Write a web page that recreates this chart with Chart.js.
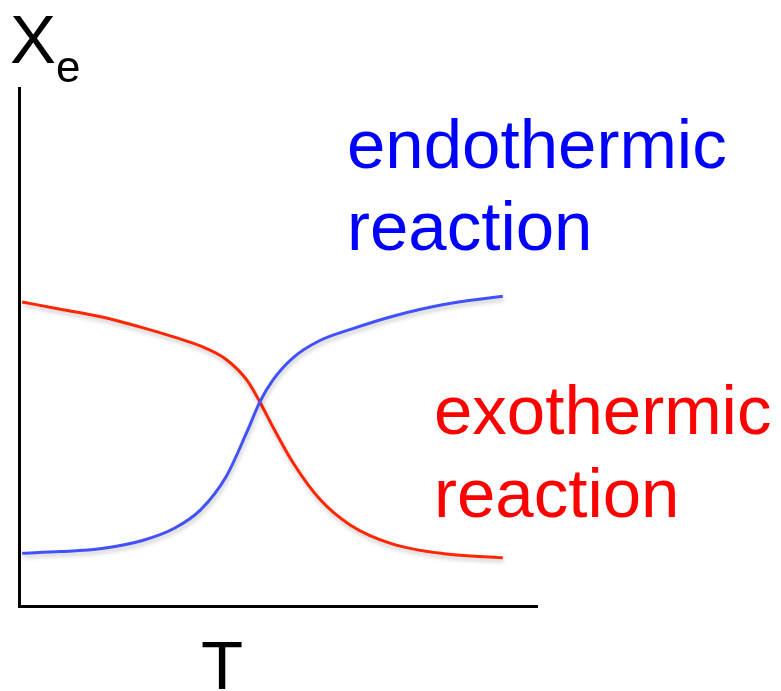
<!DOCTYPE html>
<html>
<head>
<meta charset="utf-8">
<script src="https://cdn.jsdelivr.net/npm/chart.js@4"></script>
<style>
  html, body { margin: 0; padding: 0; background: #fff; }
  #wrap { width: 781px; height: 691px; }
</style>
</head>
<body>
<div id="wrap"><canvas id="myChart" width="781" height="691"></canvas></div>
<script>
// temperature axis positions (arbitrary units, 0..100)
var temps = [0.6, 8, 16, 24, 30, 35, 40, 44, 46.5, 49, 53, 58, 64, 72, 82, 93.4];
// equilibrium conversion Xe (arbitrary units, 0..100)
var endoValues = [10.2, 10.5, 11.1, 12.7, 15.0, 18.5, 25.0, 33.6, 39.4, 43.6, 48.0, 51.2, 53.4, 55.9, 58.2, 59.8];
var exoValues = [58.7, 57.3, 55.8, 53.7, 51.9, 50.2, 47.6, 43.6, 39.4, 34.6, 27.5, 20.7, 15.6, 12.0, 10.1, 9.3];
var xTitle = 'T';
var yTitle = 'X';
var ySub = 'e';
var endoLabel = ['endothermic', 'reaction'];
var exoLabel = ['exothermic', 'reaction'];

function toPoints(xs, ys) {
    return xs.map(function (x, i) { return { x: x, y: ys[i] }; });
}

var font = '"Liberation Sans", Arial, Helvetica, sans-serif';

var shadowPlugin = {
    id: 'shadows',
    beforeDatasetsDraw: function (chart) {
        var c = chart.ctx;
        c.save();
        c.shadowColor = 'rgba(0,0,0,0.22)';
        c.shadowBlur = 4;
        c.shadowOffsetX = 1;
        c.shadowOffsetY = 3;
    },
    afterDatasetsDraw: function (chart) {
        chart.ctx.restore();
    }
};

var textPlugin = {
    id: 'texts',
    afterDraw: function (chart) {
        var c = chart.ctx;
        c.save();
        c.textBaseline = 'alphabetic';
        c.textAlign = 'left';

        c.fillStyle = '#000';
        c.font = '69px ' + font;
        c.fillText(yTitle, 10, 63);
        c.font = '44px ' + font;
        c.fillText(ySub, 56, 82);
        c.font = '69px ' + font;
        c.fillText(xTitle, 201, 689);

        c.fillStyle = '#0000ff';
        c.fillText(endoLabel[0], 347, 168);
        c.fillText(endoLabel[1], 347, 250);

        c.fillStyle = '#ff0000';
        c.fillText(exoLabel[0], 434, 434);
        c.fillText(exoLabel[1], 434, 517);
        c.restore();
    }
};

window.onload = function () {
    var ctx = document.getElementById('myChart').getContext('2d');

    var myChart = new Chart(ctx, {
        type: 'line',
        data: {
            datasets: [{
                label: 'endothermic reaction',
                data: toPoints(temps, endoValues),
                borderColor: 'rgb(66, 82, 250)',
                borderWidth: 3,
                pointRadius: 0,
                cubicInterpolationMode: 'monotone',
                fill: false,
                clip: false
            },
            {
                label: 'exothermic reaction',
                data: toPoints(temps, exoValues),
                borderColor: 'rgb(255, 38, 0)',
                borderWidth: 3,
                pointRadius: 0,
                cubicInterpolationMode: 'monotone',
                fill: false,
                clip: false
            }]
        },
        options: {
            responsive: false,
            animation: false,
            events: [],
            layout: {
                padding: { left: 19, right: 244, top: 88, bottom: 85 }
            },
            plugins: {
                legend: { display: false },
                tooltip: { enabled: false }
            },
            scales: {
                x: {
                    type: 'linear',
                    min: 0,
                    max: 100,
                    grid: { display: false, drawTicks: false },
                    border: { display: true, color: '#000', width: 3 },
                    ticks: { display: false }
                },
                y: {
                    min: 0,
                    max: 100,
                    grid: { display: false, drawTicks: false },
                    border: { display: true, color: '#000', width: 3 },
                    ticks: { display: false }
                }
            }
        },
        plugins: [shadowPlugin, textPlugin]
    });
};
</script>
</body>
</html>
